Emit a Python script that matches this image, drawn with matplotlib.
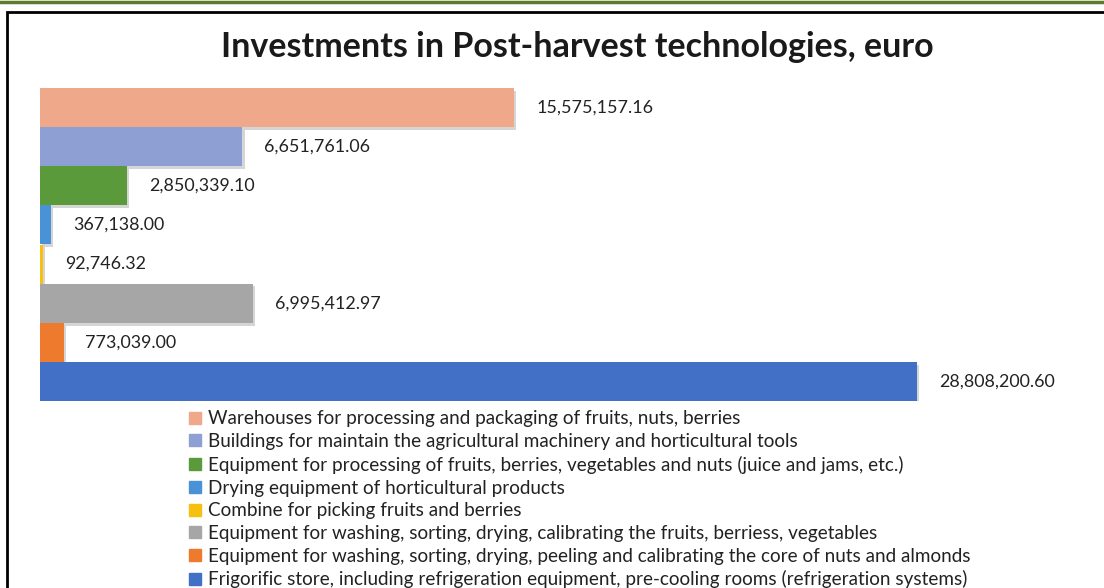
import matplotlib.pyplot as plt
import matplotlib.patheffects as pe
from matplotlib.patches import Rectangle, Patch

categories = [
    'Warehouses for processing and packaging of fruits, nuts, berries',
    'Buildings for maintain the agricultural machinery and horticultural tools',
    'Equipment for processing of fruits, berries, vegetables and nuts (juice and jams, etc.)',
    'Drying equipment of horticultural products',
    'Combine for picking fruits and berries',
    'Equipment for washing, sorting, drying, calibrating the fruits, berriess, vegetables',
    'Equipment for washing, sorting, drying, peeling and calibrating the core of nuts and almonds',
    'Frigorific store, including refrigeration equipment, pre-cooling rooms (refrigeration systems)',
]
values = [15575157.16, 6651761.06, 2850339.10, 367138.00, 92746.32, 6995412.97, 773039.00, 28808200.60]
colors = ['#F0A88B', '#8EA0D3', '#5A9A3A', '#4A92D6', '#F5C010', '#A6A6A6', '#EE7A2E', '#4270C6']

plt.rcParams['font.family'] = ['Lato', 'DejaVu Sans']

fig = plt.figure(figsize=(11.04, 5.88), dpi=100)

# page decorations: green rule on top and the black frame around the chart
fig.add_artist(plt.Line2D([0, 1], [1 - 2/588, 1 - 2/588], color='#5E7B2B', lw=2.5))
fig.add_artist(Rectangle((7/1104, -0.1), 1.2, 1 - 12/588 + 0.1, fill=False,
                         ec='black', lw=2, transform=fig.transFigure))

ax = fig.add_axes([40/1104, 187/588, 1064/1104, 313/588])
for i, (v, c) in enumerate(zip(values, colors)):
    ax.barh(i, v, height=1.0, color=c,
            path_effects=[pe.SimplePatchShadow(offset=(1.5, -2), shadow_rgbFace='#888888', alpha=0.35),
                          pe.Normal()])
    ax.text(v + 0.72e6, i, f'{v:,.2f}', va='center', ha='left', fontsize=12.9, color='#222222')

ax.set_ylim(len(values) - 0.5, -0.5)
ax.set_xlim(0, 1064 / 30.44 * 1e6)
ax.axis('off')

fig.text(577/1104, 1 - 47/588, 'Investments in Post-harvest technologies, euro',
         ha='center', va='center', fontsize=24.5, fontweight='bold', color='#1a1a1a')

handles = [Patch(color=c, label=l) for c, l in zip(colors, categories)]
fig.legend(handles=handles, loc='upper left', bbox_to_anchor=(180/1104, 1 - 401/588),
           frameon=False, fontsize=13.6, handlelength=0.6, handleheight=0.6,
           handletextpad=0.4, labelspacing=0.3, borderpad=0, labelcolor='#222222')

fig.savefig('out.png', dpi=100)
